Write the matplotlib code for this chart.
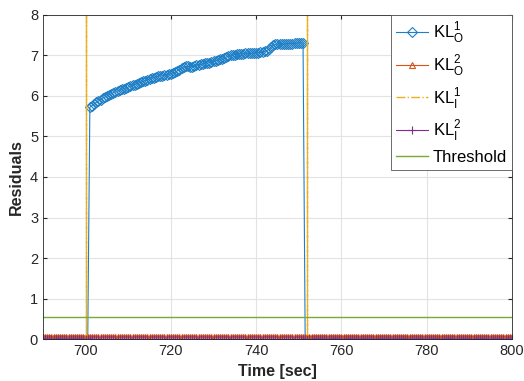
import numpy as np
import matplotlib
matplotlib.use("Agg")
import matplotlib.pyplot as plt

plt.rcParams["font.family"] = ["Liberation Sans", "DejaVu Sans"]

# time axis, 0.5 s samples
t = np.arange(690, 800.5, 0.5)

# KL_O^1: near zero outside the fault window, high inside (701..751)
kl_o1_before = [-0.02] * 22
kl_o1_fault = [5.72, 5.76, 5.80, 5.84, 5.87, 5.91, 5.95, 5.97, 6.00, 6.03,
               6.05, 6.08, 6.10, 6.12, 6.14, 6.16, 6.18, 6.20, 6.22, 6.24,
               6.26, 6.28, 6.30, 6.32, 6.34, 6.36, 6.38, 6.40, 6.42, 6.44,
               6.45, 6.47, 6.48, 6.49, 6.50, 6.51, 6.52, 6.53, 6.55, 6.57,
               6.58, 6.62, 6.65, 6.69, 6.72, 6.73, 6.73, 6.72, 6.72, 6.74,
               6.76, 6.77, 6.78, 6.79, 6.80, 6.81, 6.82, 6.84, 6.85, 6.87,
               6.88, 6.90, 6.92, 6.94, 6.96, 6.98, 7.00, 7.01, 7.02, 7.03,
               7.03, 7.04, 7.04, 7.05, 7.05, 7.05, 7.05, 7.06, 7.06, 7.07,
               7.08, 7.09, 7.10, 7.12, 7.15, 7.20, 7.25, 7.27, 7.28, 7.28,
               7.28, 7.28, 7.28, 7.29, 7.29, 7.29, 7.30, 7.30, 7.31, 7.31,
               7.30]
kl_o1_after = [-0.02] * 98
kl_o1 = kl_o1_before + kl_o1_fault + kl_o1_after

kl_o2 = [0.05] * len(t)
kl_i2 = [0.0] * len(t)

# KL_I^1: zero except two spikes at the window edges (far off the top)
t_i1 = [690, 700, 700, 700, 752, 752, 752, 800]
kl_i1 = [0, 0, 400, 0, 0, 400, 0, 0]

threshold = 0.55

c_blue = "#1f7fc6"
c_red = "#D95319"
c_yel = "#EDB120"
c_pur = "#7E2F8E"
c_grn = "#77AC30"

fig = plt.figure(figsize=(5.24, 3.81), dpi=100)
ax = fig.add_axes([0.082, 0.110, 0.895, 0.851])

ax.plot(t, kl_o1, color=c_blue, lw=0.8, marker="D", ms=5, mfc="none",
        mew=0.8, label=r"KL$_\mathregular{O}^\mathregular{1}$")
ax.plot(t, kl_o2, color=c_red, lw=0.8, marker="^", ms=5, mfc="none",
        mew=0.8, label=r"KL$_\mathregular{O}^\mathregular{2}$")
ax.plot(t_i1, kl_i1, color=c_yel, lw=1.0, ls="-.",
        label=r"KL$_\mathregular{I}^\mathregular{1}$")
ax.plot(t, kl_i2, color=c_pur, lw=0.8, marker="+", ms=6, mew=0.8,
        label=r"KL$_\mathregular{I}^\mathregular{2}$")
ax.axhline(threshold, color=c_grn, lw=1.0, label="Threshold")

ax.set_xlim(690, 800)
ax.set_ylim(0, 8)
ax.set_xticks([700, 720, 740, 760, 780, 800])
ax.set_yticks(range(0, 9))
ax.grid(True, color="#e3e3e3", lw=0.8)
ax.set_axisbelow(True)
ax.tick_params(direction="in", length=3, labelsize=10.5, colors="#262626",
               top=True, right=True)
for s in ax.spines.values():
    s.set_color("#262626")
    s.set_linewidth(0.6)

ax.set_xlabel("Time [sec]", fontsize=11.5, fontweight="bold", color="#262626")
ax.set_ylabel("Residuals", fontsize=11.5, fontweight="bold", color="#262626")

leg = ax.legend(loc="upper right", fontsize=12, frameon=True, fancybox=False,
                edgecolor="#555555", framealpha=1, borderaxespad=0,
                handlelength=1.9, handletextpad=0.3, labelspacing=0.42,
                borderpad=0.3)
leg.get_frame().set_linewidth(0.6)

fig.savefig("out.png", dpi=100)
